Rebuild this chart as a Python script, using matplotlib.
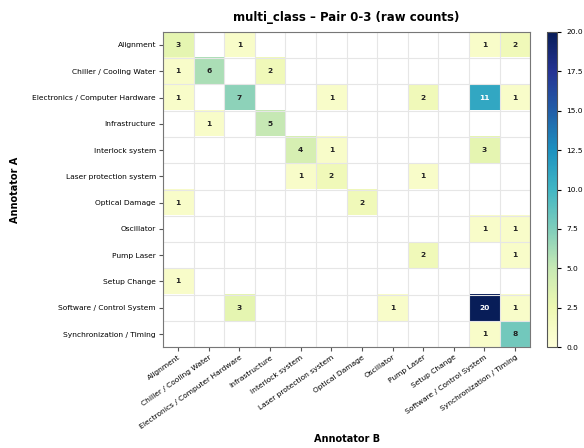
import numpy as np
import matplotlib
matplotlib.use('Agg')
import matplotlib.pyplot as plt

labels = ['Alignment', 'Chiller / Cooling Water', 'Electronics / Computer Hardware',
          'Infrastructure', 'Interlock system', 'Laser protection system',
          'Optical Damage', 'Oscillator', 'Pump Laser', 'Setup Change',
          'Software / Control System', 'Synchronization / Timing']

# rows = Annotator A, cols = Annotator B
counts = np.array([
    [3, 0, 1, 0, 0, 0, 0, 0, 0, 0, 1, 2],
    [1, 6, 0, 2, 0, 0, 0, 0, 0, 0, 0, 0],
    [1, 0, 7, 0, 0, 1, 0, 0, 2, 0, 11, 1],
    [0, 1, 0, 5, 0, 0, 0, 0, 0, 0, 0, 0],
    [0, 0, 0, 0, 4, 1, 0, 0, 0, 0, 3, 0],
    [0, 0, 0, 0, 1, 2, 0, 0, 1, 0, 0, 0],
    [1, 0, 0, 0, 0, 0, 2, 0, 0, 0, 0, 0],
    [0, 0, 0, 0, 0, 0, 0, 0, 0, 0, 1, 1],
    [0, 0, 0, 0, 0, 0, 0, 0, 2, 0, 0, 1],
    [1, 0, 0, 0, 0, 0, 0, 0, 0, 0, 0, 0],
    [0, 0, 3, 0, 0, 0, 0, 1, 0, 0, 20, 1],
    [0, 0, 0, 0, 0, 0, 0, 0, 0, 0, 1, 8],
])

vmax = 20
fig = plt.figure(figsize=(5.84, 4.48), dpi=100)
ax = fig.add_axes([0.279, 0.225, 0.629, 0.704])
cax = fig.add_axes([0.937, 0.225, 0.017, 0.704])

masked = np.ma.masked_equal(counts, 0)
im = ax.imshow(masked, cmap='YlGnBu', vmin=0, vmax=vmax, aspect='auto',
               interpolation='nearest')

n = len(labels)
ax.set_xticks(np.arange(n))
ax.set_yticks(np.arange(n))
ax.set_xticklabels(labels, rotation=35, ha='right', rotation_mode='anchor', fontsize=5.4)
ax.set_yticklabels(labels, fontsize=5.4)
ax.set_xticks(np.arange(-0.5, n, 1), minor=True)
ax.set_yticks(np.arange(-0.5, n, 1), minor=True)
ax.grid(which='minor', color='#e6e6e6', linewidth=0.8)
ax.tick_params(which='minor', length=0)
ax.tick_params(which='major', length=3, color='#555555', pad=2)
for s in ax.spines.values():
    s.set_color('#777777')

for i in range(n):
    for j in range(n):
        v = counts[i, j]
        if v > 0:
            col = 'white' if v > vmax * 0.5 else '#222222'
            ax.text(j, i, str(v), ha='center', va='center', fontsize=5.4,
                    fontweight='bold', color=col)

ax.set_title('multi_class – Pair 0-3 (raw counts)', fontsize=8.5, fontweight='bold', pad=8)
ax.set_xlabel('Annotator B', fontsize=7, fontweight='bold', labelpad=3)
ax.set_ylabel('Annotator A', fontsize=7, fontweight='bold', labelpad=9)

cb = fig.colorbar(im, cax=cax)
cb.set_ticks(np.arange(0, 20.1, 2.5))
cb.ax.tick_params(labelsize=5.4, length=3)
cb.outline.set_edgecolor('#555555')

fig.savefig('out.png', dpi=100)
